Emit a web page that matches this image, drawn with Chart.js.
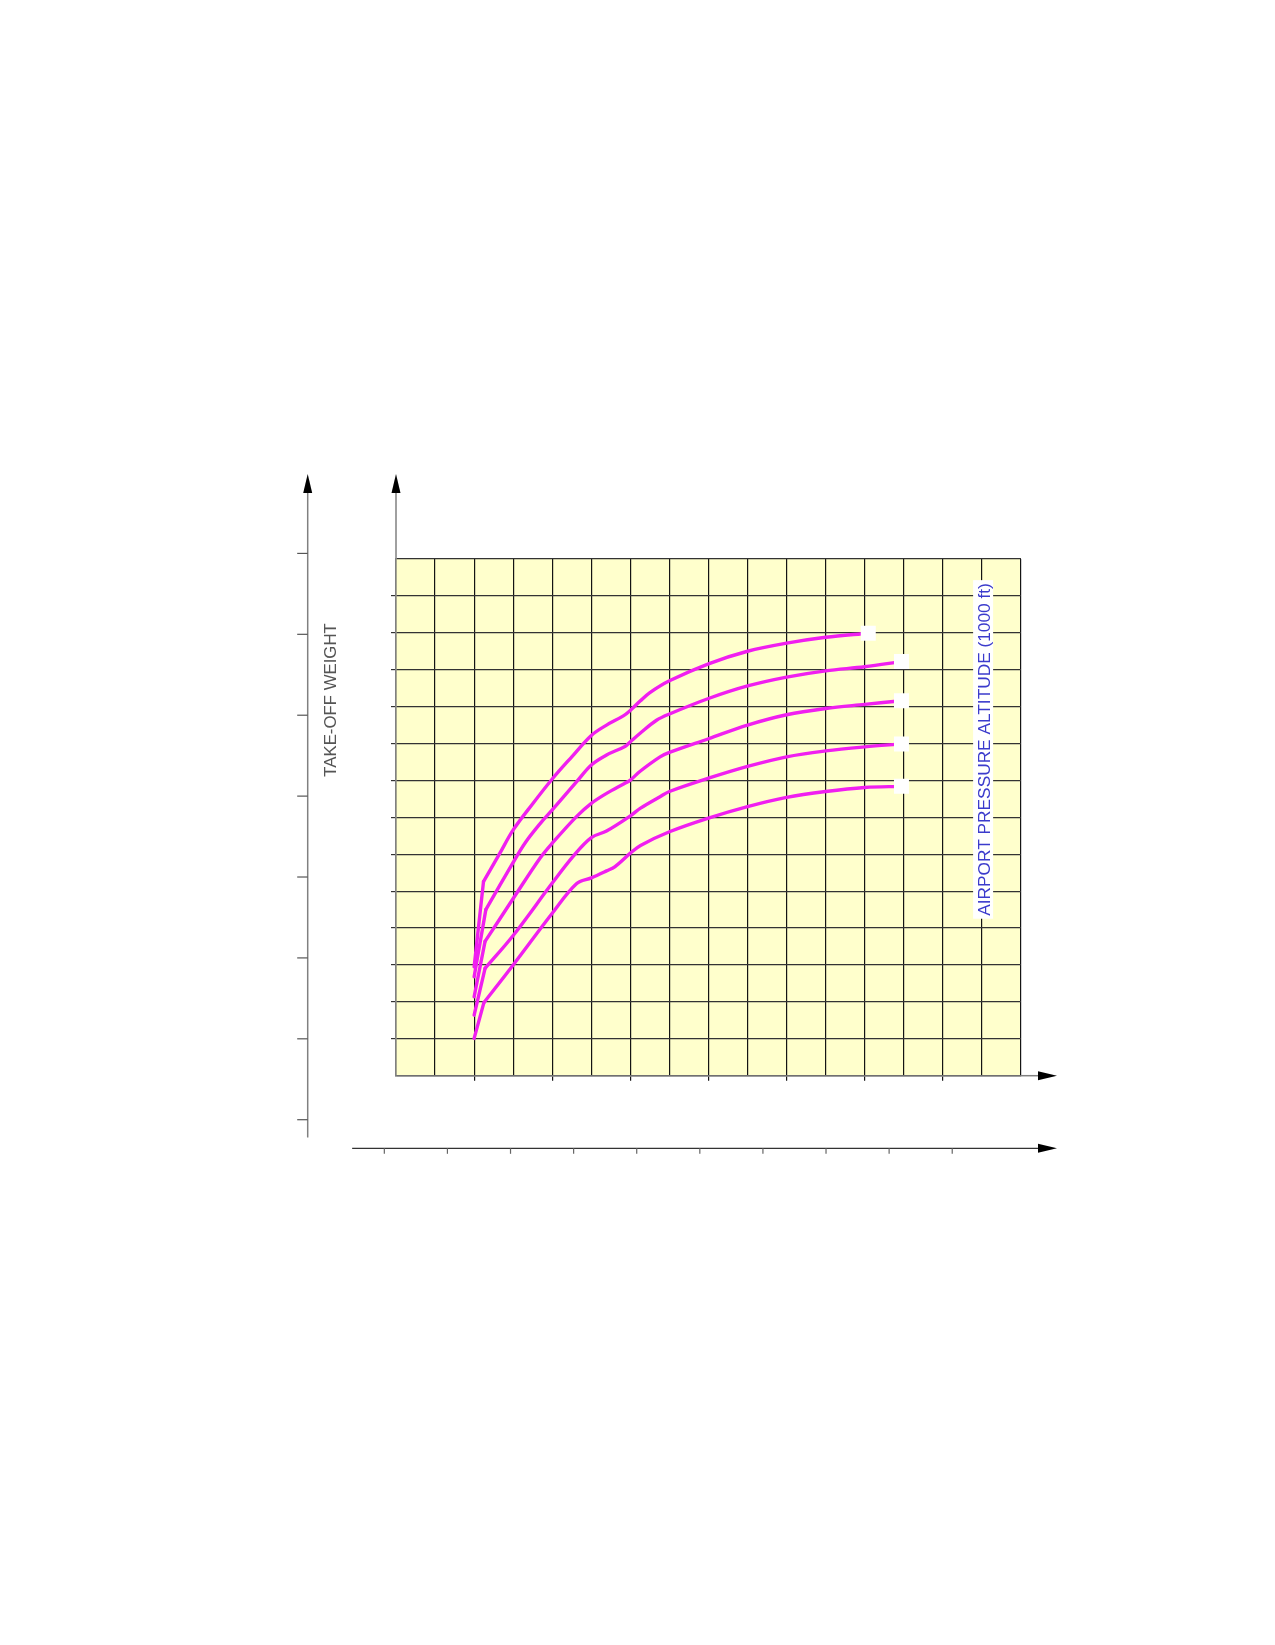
<!DOCTYPE html>
<html>
<head>
<meta charset="utf-8">
<title>Take-off weight chart</title>
<script src="https://cdn.jsdelivr.net/npm/chart.js@4.4.1/dist/chart.umd.min.js"></script>
<style>
  html, body { margin: 0; padding: 0; background: #fff; }
  canvas { display: block; }
</style>
</head>
<body>
<canvas id="chart" width="1275" height="1645"></canvas>
<script>
// curves: [column, row from the bottom]
// first point = start on the column-2 line, second point = the sharp knee
const curveA = [[2,2.95],[2.24,5.26],[2.66,6.03],[3,6.66],[3.5,7.37],[4,8.04],[4.5,8.64],[5,9.22],[5.39,9.5],[5.82,9.75],[6,9.9],[6.25,10.15],[6.5,10.38],[7,10.7],[8,11.16],[9,11.5],[10,11.72],[11,11.88],[12.09,11.99]];
const curveB = [[2,2.68],[2.3,4.5],[3,5.78],[3.3,6.3],[3.69,6.83],[4,7.2],[4.62,7.96],[5,8.42],[5.39,8.69],[5.86,8.92],[6,9.05],[6.25,9.28],[6.67,9.63],[7,9.8],[8,10.22],[9,10.56],[10,10.8],[11,10.97],[12,11.08],[12.94,11.22]];
const curveC = [[2,2.14],[2.28,3.64],[3,4.8],[3.69,5.9],[4,6.3],[4.62,7.02],[5,7.38],[5.39,7.65],[5.85,7.92],[6,8.01],[6.25,8.25],[6.76,8.64],[7,8.76],[8,9.13],[9,9.5],[10,9.78],[11,9.95],[12,10.06],[12.94,10.16]];
const curveD = [[2,1.64],[2.28,2.91],[3,3.8],[4,5.22],[4.54,5.95],[5,6.45],[5.39,6.63],[6,7.04],[6.26,7.25],[6.76,7.56],[7,7.7],[8,8.06],[9,8.38],[10,8.64],[11,8.8],[12,8.91],[12.94,8.99]];
const curveE = [[2,1.01],[2.25,1.98],[3,3.0],[4,4.4],[4.62,5.2],[5,5.36],[5.39,5.55],[5.6,5.66],[6,6.03],[6.26,6.24],[7,6.61],[8,6.98],[9,7.29],[10,7.54],[11,7.7],[12,7.81],[12.94,7.84]];

// unlabelled ticks of the two outer axes
const weightTicks = [0, 1, 2, 3, 4, 5, 6, 7];
const distanceTicks = [0, 1, 2, 3, 4, 5, 6, 7, 8, 9];

const weightLabel = 'TAKE-OFF WEIGHT';
const altitudeLabel = 'AIRPORT PRESSURE ALTITUDE (1000 ft)';

const FONT = '"Liberation Sans", Arial, Helvetica, sans-serif';
const MAGENTA = '#f01ff0';

// straight stem from the start up to the knee
function stem(points) {
  return {
    data: points.slice(0, 2),
    borderColor: MAGENTA,
    borderWidth: 3.4,
    borderCapStyle: 'round',
    tension: 0,
    pointRadius: 0,
    pointHoverRadius: 0,
    xAxisID: 'x',
    yAxisID: 'y',
  };
}

// smooth body from the knee to the white end marker
function body(points) {
  const rest = points.slice(1);
  const last = rest.length - 1;
  return {
    data: rest,
    borderColor: MAGENTA,
    borderWidth: 3.4,
    borderCapStyle: 'round',
    tension: 0.35,
    pointStyle: 'rect',
    pointRadius: rest.map((p, i) => (i === last ? 10.6 : 0)),
    pointHoverRadius: 0,
    pointBackgroundColor: '#ffffff',
    pointBorderWidth: 0,
    xAxisID: 'x',
    yAxisID: 'y',
  };
}

function line(ctx, x1, y1, x2, y2) {
  ctx.beginPath();
  ctx.moveTo(x1, y1);
  ctx.lineTo(x2, y2);
  ctx.stroke();
}

function arrow(ctx, x, y, dir) {
  const len = 19, half = 4.5;
  ctx.beginPath();
  ctx.moveTo(x, y);
  if (dir === 'up') {
    ctx.lineTo(x - half, y + len);
    ctx.lineTo(x + half, y + len);
  } else {
    ctx.lineTo(x - len, y - half);
    ctx.lineTo(x - len, y + half);
  }
  ctx.closePath();
  ctx.fill();
}

function verticalText(ctx, text, baselineX, centerY, color) {
  ctx.save();
  ctx.translate(baselineX, centerY);
  ctx.rotate(-Math.PI / 2);
  ctx.fillStyle = color;
  ctx.textAlign = 'center';
  ctx.textBaseline = 'alphabetic';
  ctx.fillText(text, 0, 0);
  ctx.restore();
}

const framePlugin = {
  id: 'frame',
  beforeDraw(chart) {
    const { ctx, chartArea: a } = chart;
    ctx.save();
    ctx.fillStyle = '#ffffcc';
    ctx.fillRect(a.left, a.top, a.width, a.height);
    ctx.restore();
  },
  afterDraw(chart) {
    const { ctx, chartArea: a, scales } = chart;
    const tipY = a.top - 85;
    const tipX = a.right + 36;
    ctx.save();

    // inner axes run on past the grid to their arrows
    ctx.strokeStyle = '#808080';
    ctx.lineWidth = 1.5;
    line(ctx, a.left, a.top, a.left, tipY + 10);
    line(ctx, a.right, a.bottom, tipX - 10, a.bottom);
    ctx.fillStyle = '#000';
    arrow(ctx, a.left, tipY, 'up');
    arrow(ctx, tipX, a.bottom, 'right');

    // outer weight axis
    const w = scales.w;
    const wx = a.left - 88.3;
    line(ctx, wx, w.getPixelForValue(-0.22), wx, tipY + 10);
    arrow(ctx, wx, tipY, 'up');
    ctx.strokeStyle = '#555';
    ctx.lineWidth = 1.2;
    weightTicks.forEach(v => {
      const py = w.getPixelForValue(v);
      line(ctx, wx - 10.5, py, wx, py);
    });

    // outer bottom axis
    const d = scales.d;
    const dy = a.bottom + 72.6;
    ctx.strokeStyle = '#333';
    ctx.lineWidth = 1.2;
    line(ctx, d.getPixelForValue(-0.51), dy, tipX - 10, dy);
    arrow(ctx, tipX, dy, 'right');
    ctx.strokeStyle = '#666';
    distanceTicks.forEach(v => {
      const px = d.getPixelForValue(v);
      line(ctx, px, dy, px, dy + 5.5);
    });

    // labels
    ctx.font = '16.8px ' + FONT;
    verticalText(ctx, weightLabel, a.left - 60.3, a.top + 141, '#555');

    const ax = scales.x.getPixelForValue(15.03);
    const ay = scales.y.getPixelForValue(8.84);
    ctx.font = '17.3px ' + FONT;
    const tw = ctx.measureText(altitudeLabel).width;
    ctx.fillStyle = '#ffffff';
    ctx.fillRect(ax - 10, ay - tw / 2 - 3, 20, tw + 6);
    verticalText(ctx, altitudeLabel, ax + 7, ay, '#3b3bcc');

    ctx.restore();
  },
};

const curves = [curveA, curveB, curveC, curveD, curveE];

new Chart(document.getElementById('chart'), {
  type: 'line',
  data: {
    datasets: curves.flatMap(c => [stem(c), body(c)]),
  },
  options: {
    responsive: false,
    animation: false,
    events: [],
    layout: {
      padding: { left: 391, top: 559, right: 254, bottom: 564.3 },
    },
    scales: {
      x: {
        type: 'linear',
        position: 'bottom',
        min: 0,
        max: 16,
        ticks: { stepSize: 1, display: false, autoSkip: false },
        grid: {
          color: '#141414',
          lineWidth: 1.2,
          tickLength: 5,
          tickColor: c => (c.tick && c.tick.value % 2 === 0 && c.tick.value > 0 && c.tick.value < 16 ? '#141414' : 'rgba(0,0,0,0)'),
        },
        border: { display: true, color: '#707070', width: 1.5 },
        afterFit(scale) { scale.height = 5; },
      },
      y: {
        type: 'linear',
        position: 'left',
        min: 0,
        max: 14,
        ticks: { stepSize: 1, display: false, autoSkip: false },
        grid: {
          color: '#333333',
          lineWidth: 1.2,
          tickLength: 5,
          tickColor: c => (c.tick && c.tick.value > 0 && c.tick.value < 14 ? '#333333' : 'rgba(0,0,0,0)'),
        },
        border: { display: true, color: '#808080', width: 1.5 },
        afterFit(scale) { scale.width = 5; },
      },
      w: {
        axis: 'y',
        type: 'linear',
        position: 'left',
        display: false,
        min: 0.544,
        max: 6.931,
      },
      d: {
        axis: 'x',
        type: 'linear',
        position: 'bottom',
        display: false,
        min: 0.185,
        max: 10.09,
      },
    },
    plugins: {
      legend: { display: false },
      tooltip: { enabled: false },
    },
  },
  plugins: [framePlugin],
});
</script>
</body>
</html>
